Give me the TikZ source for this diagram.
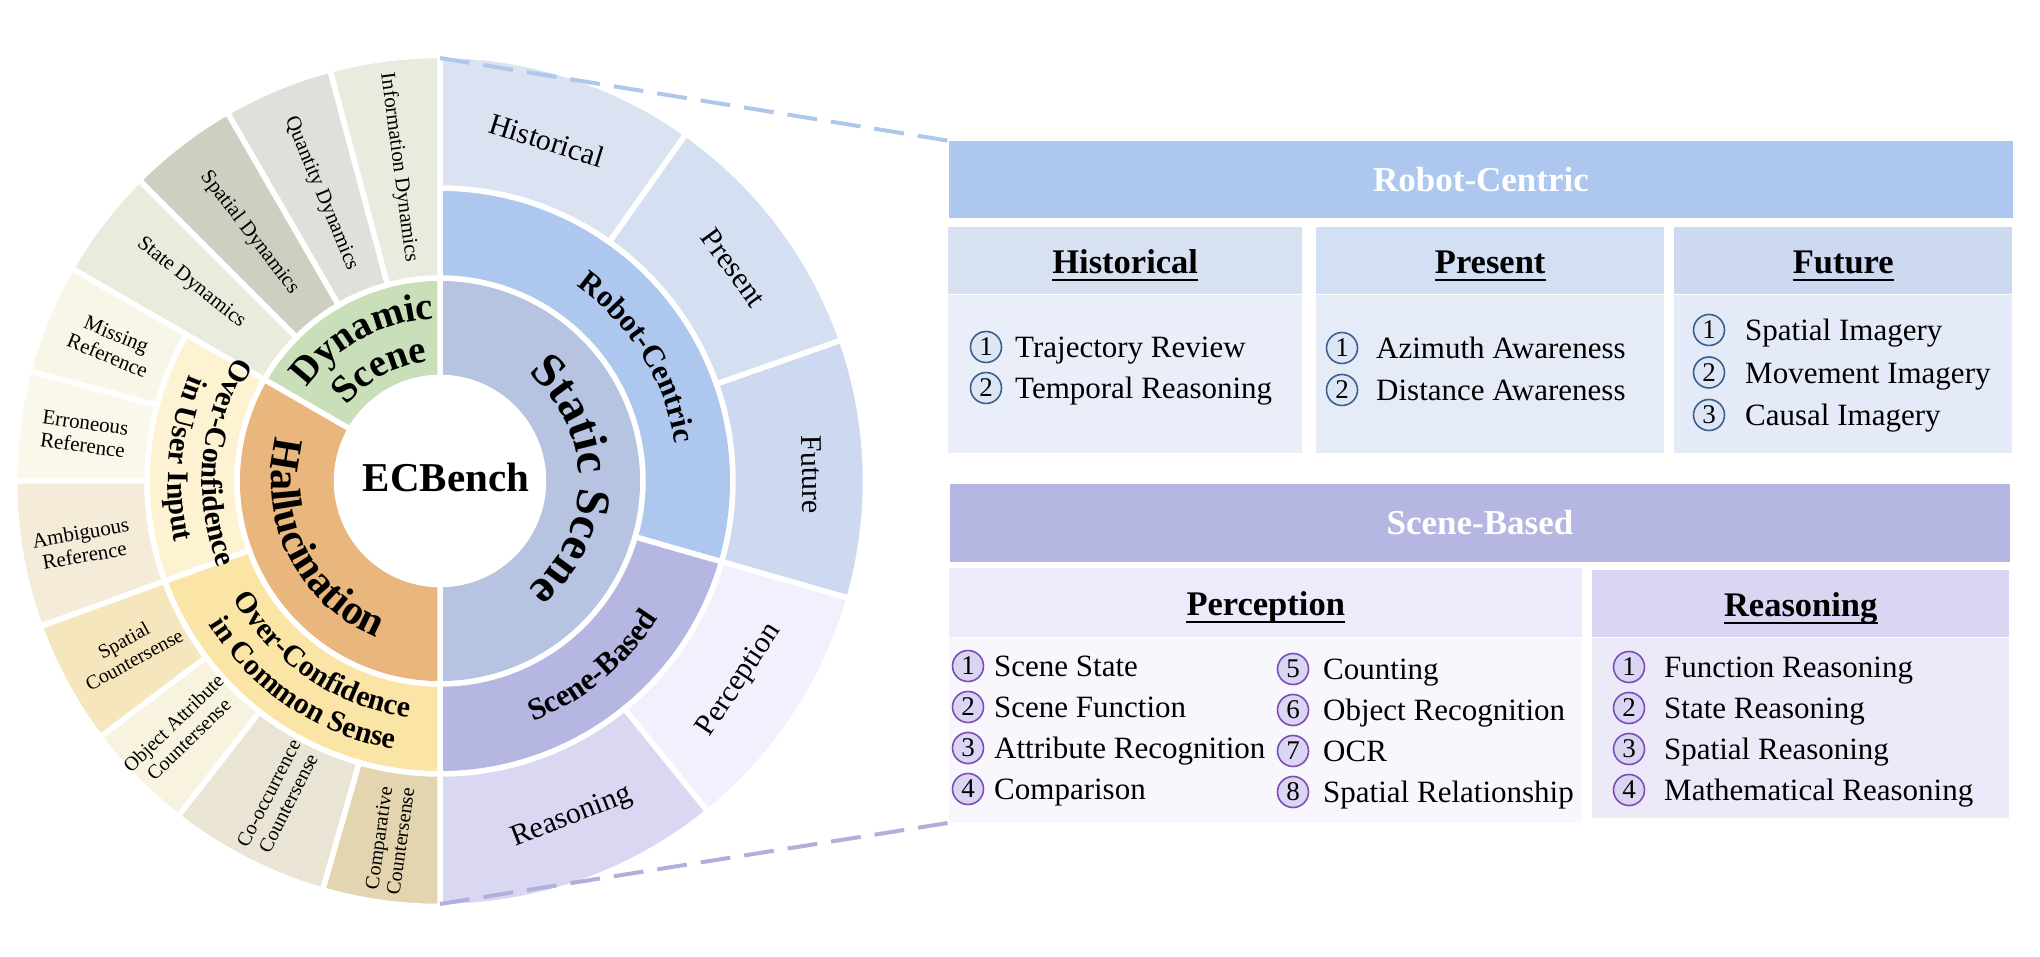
\documentclass[tikz,border=0pt]{standalone}
\usepackage{fontspec}
\setmainfont{Liberation Serif}
\usetikzlibrary{decorations.text}
% wheel colours
\definecolor{stat}{HTML}{B6C4E2}
\definecolor{robo}{HTML}{ADC7EE}
\definecolor{scnb}{HTML}{B5B6E1}
\definecolor{hist}{HTML}{DBE2F1}
\definecolor{pres}{HTML}{D4E0F2}
\definecolor{futr}{HTML}{CDD9F1}
\definecolor{perc}{HTML}{F1F0FC}
\definecolor{reas}{HTML}{DAD7F3}
\definecolor{dyna}{HTML}{C9DFBA}
\definecolor{infd}{HTML}{E8ECDE}
\definecolor{quad}{HTML}{DFE0DA}
\definecolor{spad}{HTML}{CCD0C1}
\definecolor{stad}{HTML}{E7ECDD}
\definecolor{hall}{HTML}{E9B77E}
\definecolor{usri}{HTML}{FDF2D2}
\definecolor{cmns}{HTML}{FBE5A6}
\definecolor{miss}{HTML}{F8F7E7}
\definecolor{erro}{HTML}{F9F8EA}
\definecolor{ambi}{HTML}{F4EBD9}
\definecolor{spac}{HTML}{F5E6BD}
\definecolor{objc}{HTML}{F7F3DF}
\definecolor{cooc}{HTML}{E9E4D4}
\definecolor{cmpc}{HTML}{E2D5AF}
% panel colours
\definecolor{histhd}{HTML}{D8E1F1}
\definecolor{histbd}{HTML}{E9EEF8}
\definecolor{preshd}{HTML}{D3DFF2}
\definecolor{presbd}{HTML}{E6ECF7}
\definecolor{futrhd}{HTML}{CDD8F1}
\definecolor{futrbd}{HTML}{E4EAF7}
\definecolor{perchd}{HTML}{ECEAFB}
\definecolor{percbd}{HTML}{F8F7FD}
\definecolor{reashd}{HTML}{D9D6F3}
\definecolor{reasbd}{HTML}{ECEAF9}
\definecolor{numblue}{HTML}{3D5F8E}
\definecolor{numbluef}{HTML}{DDE6F4}
\definecolor{numpurp}{HTML}{7D4DB6}
\definecolor{numpurpf}{HTML}{DAD5F3}
\definecolor{zoomtop}{HTML}{AEC8EC}
\definecolor{zoombot}{HTML}{AFB1DC}
\newcommand\wheelfont[1]{\bfseries\fontsize{#1}{#1}\selectfont}
\begin{document}
\begin{tikzpicture}[x=1pt, y=1pt, line join=round,
	sect/.style={draw=white, line width=5.5, line join=miter},
	leaf/.style={font=\fontsize{21}{23}\selectfont, align=center, inner sep=0},
	leafs/.style={leaf, font=\fontsize{20}{22}\selectfont},
	tang/.style={font=\fontsize{30}{30}\selectfont, inner sep=0},
	bar/.style={inner sep=0, text=white, font=\wheelfont{35}},
	cell/.style={anchor=north west, inner sep=0},
	ttl/.style={anchor=base, inner sep=0, font=\wheelfont{34.5}},
	uline/.style={line width=1.8},
	numb/.style={circle, draw=numblue, fill=numbluef, line width=1.6, minimum size=31, inner sep=0, font=\fontsize{27}{27}\selectfont},
	numbp/.style={numb, draw=numpurp, fill=numpurpf},
	item/.style={anchor=base west, inner sep=0, font=\fontsize{31}{31}\selectfont},
	zoomline/.style={line width=4, dash pattern=on 30 off 14}]
	\useasboundingbox (0,0) rectangle (2040,956);
	
	% the wheel
	\begin{scope}[shift={(440,475)}]
		\foreach \a/\b/\ri/\ro/\c in {90/-90/103.5/203/stat, 90/150/103.5/203/dyna, 150/270/103.5/203/hall,
			90/-16/203/293/robo, -16/-90/203/293/scnb, 150/200/203/293/usri, 200/270/203/293/cmns,
			90/105/203/425.5/infd, 105/120/203/425.5/quad, 120/135/203/425.5/spad, 135/150/203/425.5/stad,
			90/54.67/293/425.5/hist, 54.67/19.33/293/425.5/pres, 19.33/-16/293/425.5/futr,
			-16/-51/293/425.5/perc, -51/-90/293/425.5/reas,
			150/165/293/425.5/miss, 165/180/293/425.5/erro, 180/200/293/425.5/ambi,
			200/217/293/425.5/spac, 217/232/293/425.5/objc, 232/254/293/425.5/cooc, 254/270/293/425.5/cmpc}
		{\filldraw[sect, fill=\c] (\a:\ri) arc[start angle=\a, end angle=\b, radius=\ri] -- (\b:\ro) arc[start angle=\b, end angle=\a, radius=\ro] -- cycle;}
		\coordinate (wtop) at (90:423);
		\coordinate (wbot) at (-90:423);
		\node[font=\wheelfont{41}, inner sep=0] (ecb) at (6,4) {ECBench};
		
		% clockwise arcs: letters outside, counter-clockwise arcs: letters inside
		\path[decorate, decoration={text along path, text align=center, text={|\wheelfont{48}|Static Scene}}] (80:139) arc[start angle=80, end angle=-80, radius=139];
		\path[decorate, decoration={text along path, text align=center, text={|\wheelfont{31}|Robot-Centric}}] (77:238) arc[start angle=77, end angle=-13, radius=238];
		\path[decorate, decoration={text along path, text align=center, text={|\wheelfont{31}|Scene-Based}}] (-90.5:258) arc[start angle=-90.5, end angle=-10.5, radius=258];
		\path[decorate, decoration={text along path, text align=center, text={|\wheelfont{39}|Dynamic}}] (163.5:162) arc[start angle=163.5, end angle=73.5, radius=162];
		\path[decorate, decoration={text along path, text align=center, text={|\wheelfont{39}|Scene}}] (163.5:120) arc[start angle=163.5, end angle=73.5, radius=120];
		\path[decorate, decoration={text along path, text align=center, text={|\wheelfont{42}|Hallucination}}] (136.5:169) arc[start angle=136.5, end angle=276.5, radius=169];
		\path[decorate, decoration={text along path, text align=center, text={|\wheelfont{30}|Over-Confidence}}] (130:238) arc[start angle=130, end angle=220, radius=238];
		\path[decorate, decoration={text along path, text align=center, text={|\wheelfont{30}|in User Input}}] (130:272) arc[start angle=130, end angle=220, radius=272];
		\path[decorate, decoration={text along path, text align=center, text={|\wheelfont{30}|Over-Confidence}}] (191:238) arc[start angle=191, end angle=281, radius=238];
		\path[decorate, decoration={text along path, text align=center, text={|\wheelfont{30}|in Common Sense}}] (191:272) arc[start angle=191, end angle=281, radius=272];
		
		% outer labels
		\foreach \a/\r/\t [count=\i] in {97.5/316/Information Dynamics, 112.5/311/Quantity Dynamics, 127.5/313/Spatial Dynamics, 141.5/318/State Dynamics,
			157.5/355/Missing\\Reference, 172.5/359/Erroneous\\Reference, 190/363/Ambiguous\\Reference}
		\node[leaf, rotate=\a-180] (lf\i) at (\a:\r) {\t};
		\foreach \a/\r/\t [count=\i] in {208.5/354/Spatial\\Countersense, 224/360/Object Attribute\\Countersense,
			243/356/Co-occurrence\\Countersense, 262/362/Comparative\\Countersense}
		\node[leafs, rotate=\a-180] (lc\i) at (\a:\r) {\t};
		\foreach \a/\r/\t [count=\i] in {72.6/357/Historical, 36/363/Present, 1/372/Future}
		\node[tang, rotate=\a-90] (rt\i) at (\a:\r) {\t};
		\foreach \a/\r/\t [count=\i] in {-33.6/360/Perception, -68.6/361/Reasoning}
		\node[tang, rotate=\a+90] (rb\i) at (\a:\r) {\t};
	\end{scope}
	
	% robot-centric panel
	\node[bar, fill=robo, minimum width=1064, minimum height=77] (rc) at (1481,776.5) {Robot-Centric};
	\foreach \nm/\x/\w/\hc/\bc/\t in {hist/948/354/histhd/histbd/Historical, pres/1316/348/preshd/presbd/Present, futr/1674/338/futrhd/futrbd/Future}
	{
		\node[cell, fill=\hc, minimum width=\w, minimum height=67] (\nm-h) at (\x,729) {};
		\node[cell, fill=\bc, minimum width=\w, minimum height=158] (\nm-b) at (\nm-h.south west) {};
		\node[ttl] (\nm-t) at ([yshift=-12.5]\nm-h.center) {\t};
		\draw[uline] ([yshift=-7]\nm-t.base west) -- ([yshift=-7]\nm-t.base east);
	}
	\foreach \k/\t in {1/Trajectory Review, 2/Temporal Reasoning}
	{\node[numb] (hn\k) at (986,650-41*\k) {\k};
		\node[item] (hi\k) at ([xshift=29,yshift=-11]hn\k.center) {\t};}
	\foreach \k/\t in {1/Azimuth Awareness, 2/Distance Awareness}
	{\node[numb] (pn\k) at (1342,650-42*\k) {\k};
		\node[item] (pi\k) at ([xshift=34,yshift=-11]pn\k.center) {\t};}
	\foreach \k/\t in {1/Spatial Imagery, 2/Movement Imagery, 3/Causal Imagery}
	{\node[numb] (fn\k) at (1709,668.5-42.5*\k) {\k};
		\node[item] (fi\k) at ([xshift=36,yshift=-11]fn\k.center) {\t};}
	
	% scene-based panel
	\node[bar, fill=scnb, minimum width=1060, minimum height=78] (sb) at (1480,433) {Scene-Based};
	\foreach \nm/\x/\y/\w/\hh/\bh/\hc/\bc/\t in {perc/949/388/633/69/185/perchd/percbd/Perception, reas/1592/386/417/67/180/reashd/reasbd/Reasoning}
	{
		\node[cell, fill=\hc, minimum width=\w, minimum height=\hh] (\nm-h) at (\x,\y) {};
		\node[cell, fill=\bc, minimum width=\w, minimum height=\bh] (\nm-b) at (\nm-h.south west) {};
		\node[ttl] (\nm-t) at ([yshift=-12.5]\nm-h.center) {\t};
		\draw[uline] ([yshift=-7]\nm-t.base west) -- ([yshift=-7]\nm-t.base east);
	}
	\foreach \k/\t in {1/Scene State, 2/Scene Function, 3/Attribute Recognition, 4/Comparison}
	{\node[numbp] (qn\k) at (968,331-41*\k) {\k};
		\node[item] (qi\k) at ([xshift=26,yshift=-11]qn\k.center) {\t};}
	\foreach \k/\t in {5/Counting, 6/Object Recognition, 7/OCR, 8/Spatial Relationship}
	{\node[numbp] (qn\k) at (1293,328-41*\k+164) {\k};
		\node[item] (qi\k) at ([xshift=30,yshift=-11]qn\k.center) {\t};}
	\foreach \k/\t in {1/Function Reasoning, 2/State Reasoning, 3/Spatial Reasoning, 4/Mathematical Reasoning}
	{\node[numbp] (rn\k) at (1629,330-41*\k) {\k};
		\node[item] (ri\k) at ([xshift=35,yshift=-11]rn\k.center) {\t};}
	
	% zoom lines
	\draw[zoomline, draw=zoomtop] (wtop) -- (rc.north west);
	\draw[zoomline, draw=zoombot] (wbot) -- (perc-b.south west);
\end{tikzpicture}
\end{document}
